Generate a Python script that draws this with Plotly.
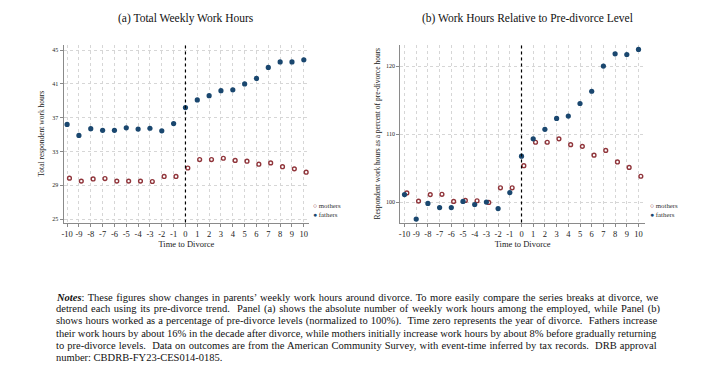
import plotly.graph_objects as go

# ---------------- data ----------------
event_time = list(range(-10, 11))

# Panel (a): total weekly work hours
fathers_hours = [36.2, 34.9, 35.7, 35.5, 35.5, 35.8, 35.65, 35.75, 35.45, 36.3,
                 38.2, 39.1, 39.6, 40.2, 40.3, 41.0, 41.65, 42.95, 43.6, 43.6, 43.85]
mothers_hours = [29.85, 29.5, 29.75, 29.8, 29.5, 29.5, 29.5, 29.45, 30.05, 30.05,
                 31.05, 32.05, 32.05, 32.2, 31.95, 31.85, 31.5, 31.65, 31.2, 30.95, 30.55]

# Panel (b): hours relative to pre-divorce level (percent)
fathers_rel = [101.1, 97.5, 99.8, 99.2, 99.2, 100.1, 99.65, 100.0, 99.05, 101.4,
               106.75, 109.3, 110.7, 112.3, 112.65, 114.5, 116.3, 120.0, 121.8, 121.7, 122.45]
mothers_rel = [101.35, 100.15, 101.1, 101.15, 100.1, 100.25, 100.2, 99.95, 102.1, 102.1,
               105.35, 108.8, 108.8, 109.3, 108.45, 108.2, 106.9, 107.6, 105.9, 105.1, 103.8]

ticks_a = [25, 29, 33, 37, 41, 45]
ticks_b = [100, 110, 120]

titles = ["(a) Total Weekly Work Hours", "(b) Work Hours Relative to Pre-divorce Level"]
ytitles = ["Total respondent work hours",
           "Respondent work hours as a percent of pre-divorce hours"]
series_names = ["mothers", "fathers"]

notes_lines = [
    "<b><i>Notes</i></b>: These figures show changes in parents’ weekly work hours around divorce. To more easily compare the series breaks at divorce, we",
    "detrend each using its pre-divorce trend.  Panel (a) shows the absolute number of weekly work hours among the employed, while Panel (b)",
    "shows hours worked as a percentage of pre-divorce levels (normalized to 100%).  Time zero represents the year of divorce.  Fathers increase",
    "their work hours by about 16% in the decade after divorce, while mothers initially increase work hours by about 8% before gradually returning",
    "to pre-divorce levels.  Data on outcomes are from the American Community Survey, with event-time inferred by tax records.  DRB approval",
    "number: CBDRB-FY23-CES014-0185.",
]
# extra word spacing (px) per notes line, to imitate the justified paragraph
notes_word_spacing = [0.85, 0.95, 0.5, 0.0, 0.5, 0.0]

# ---------------- style ----------------
PAGE_OFF = 8             # default body margin of the html page
W, H = 705 - PAGE_OFF, 385 - PAGE_OFF
NAVY = "#1a476f"
MAROON = "#90353b"
SERIF = "Liberation Serif, Times New Roman, serif"
DODGE = 0.2  # horizontal dodge of the mothers series


def px(x):
    return (x - PAGE_OFF) / W


def py(y):
    return 1 - (y - PAGE_OFF) / H


fig = go.Figure()

panels = [
    dict(xa="x", ya="y", fy=fathers_hours, my=mothers_hours),
    dict(xa="x2", ya="y2", fy=fathers_rel, my=mothers_rel),
]

for p in panels:
    fig.add_trace(go.Scatter(
        x=[t + DODGE for t in event_time], y=p["my"], mode="markers", name=series_names[0],
        xaxis=p["xa"], yaxis=p["ya"], showlegend=False,
        marker=dict(symbol="circle-open", size=3.8, color=MAROON, line=dict(width=1.4)),
    ))
    fig.add_trace(go.Scatter(
        x=event_time, y=p["fy"], mode="markers", name=series_names[1],
        xaxis=p["xa"], yaxis=p["ya"], showlegend=False,
        marker=dict(symbol="circle", size=5.2, color=NAVY),
    ))

axis_common = dict(
    showline=True, linecolor="#8a8a8a", linewidth=1, mirror=False,
    ticks="outside", ticklen=3, tickcolor="#8a8a8a",
    showgrid=True, gridcolor="#d6d6d6", griddash="dot", gridwidth=0.8,
    zeroline=False,
)

ydom = [py(222.5), py(45)]
xtick_text = [str(t) for t in event_time]
fig.update_layout(
    width=W, height=H,
    margin=dict(l=0, r=0, t=0, b=0),
    paper_bgcolor="white", plot_bgcolor="white",
    font=dict(family=SERIF, color="#222"),
    showlegend=False,
    xaxis=dict(domain=[px(61.7), px(308)], range=[-10.3, 10.45], tickmode="array",
               tickvals=event_time, ticktext=xtick_text,
               tickfont=dict(size=8.5, family=SERIF),
               title=dict(text="Time to Divorce", font=dict(size=8.5, family=SERIF), standoff=3),
               anchor="y", **axis_common),
    yaxis=dict(domain=ydom, range=[24.6, 45.6], tickvals=ticks_a,
               tickfont=dict(size=6, family=SERIF),
               title=dict(text=ytitles[0], font=dict(size=7.5, family=SERIF), standoff=6),
               anchor="x", **axis_common),
    xaxis2=dict(domain=[px(399.3), px(645)], range=[-10.37, 10.57], tickmode="array",
                tickvals=event_time, ticktext=xtick_text,
                tickfont=dict(size=8.5, family=SERIF),
                title=dict(text="Time to Divorce", font=dict(size=8.5, family=SERIF), standoff=3),
                anchor="y2", **axis_common),
    yaxis2=dict(domain=ydom, range=[97.0, 123.1], tickvals=ticks_b,
                tickfont=dict(size=6, family=SERIF),
                title=dict(text=ytitles[1], font=dict(size=7.5, family=SERIF), standoff=4),
                anchor="x2", **axis_common),
)

# vertical dotted line at divorce
for xa, ya in [("x", "y"), ("x2", "y2")]:
    fig.add_shape(type="line", xref=xa, yref=f"{ya} domain",
                  x0=0, x1=0, y0=0, y1=1,
                  line=dict(color="black", width=1.2, dash="dot"))

# legends (text keys with coloured symbols)
for lx in [310, 648]:
    fig.add_annotation(
        text=f"<span style='color:{MAROON}'><b>○</b></span> {series_names[0]}",
        x=px(lx), y=py(205.7), xref="paper", yref="paper", xanchor="left", yanchor="middle",
        showarrow=False, font=dict(size=6.8, family=SERIF, color="#333"))
    fig.add_annotation(
        text=f"<span style='color:{NAVY}'>●</span> {series_names[1]}",
        x=px(lx), y=py(214.3), xref="paper", yref="paper", xanchor="left", yanchor="middle",
        showarrow=False, font=dict(size=6.8, family=SERIF, color="#333"))

# panel titles
fig.add_annotation(text=titles[0], x=px(185), y=py(18), xref="paper", yref="paper",
                   xanchor="center", yanchor="middle",
                   showarrow=False, font=dict(size=11.5, family=SERIF, color="#111"))
fig.add_annotation(text=titles[1], x=px(527), y=py(18), xref="paper", yref="paper",
                   xanchor="center", yanchor="middle",
                   showarrow=False, font=dict(size=11.5, family=SERIF, color="#111"))

# notes
for i, (line, ws) in enumerate(zip(notes_lines, notes_word_spacing)):
    fig.add_annotation(text=f"<span style='word-spacing:{ws}px'>{line}</span>",
                       x=px(52), y=py(297 + 12 * i), xref="paper", yref="paper",
                       xanchor="left", yanchor="middle", showarrow=False, align="left",
                       font=dict(size=10.5, family=SERIF, color="#111"))

fig.write_html("out.html")
